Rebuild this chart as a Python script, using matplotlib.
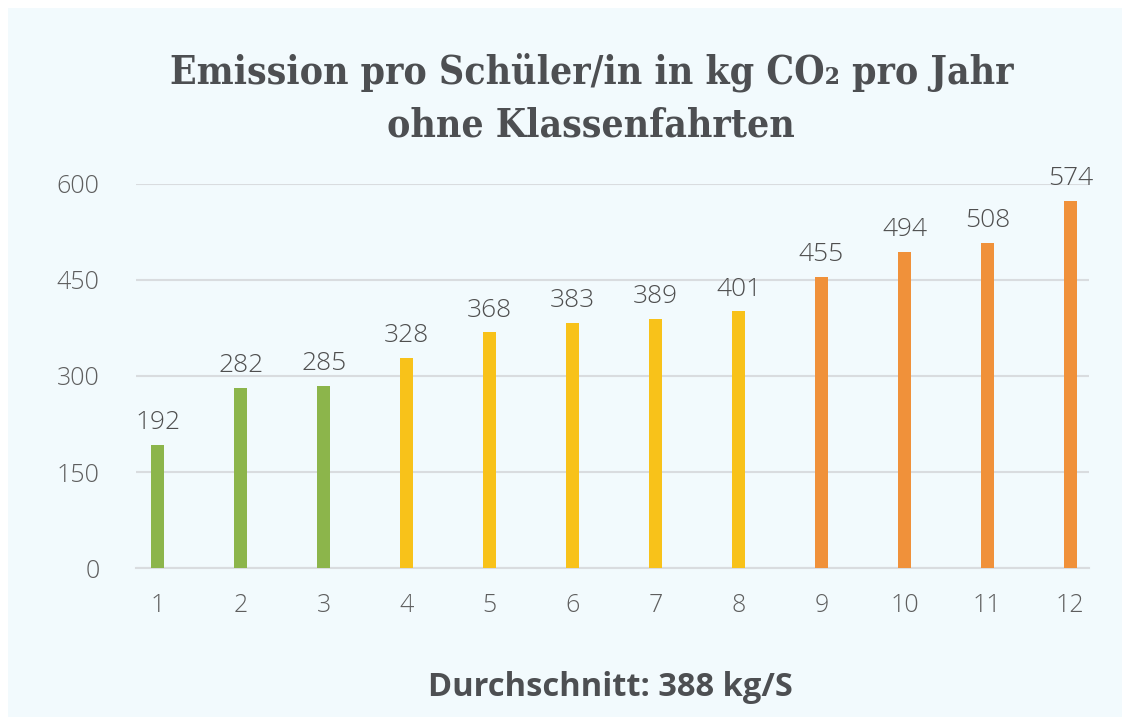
import matplotlib
matplotlib.use("Agg")
from matplotlib import pyplot
from matplotlib.patches import Rectangle

klassen = [1, 2, 3, 4, 5, 6, 7, 8, 9, 10, 11, 12]
emission = [192, 282, 285, 328, 368, 383, 389, 401, 455, 494, 508, 574]
gruppen = ['gruen'] * 3 + ['gelb'] * 5 + ['orange'] * 4
farben = {'gruen': '#8cb54b', 'gelb': '#f8c21a', 'orange': '#f0913a'}
yticks = [0, 150, 300, 450, 600]

bg = '#f2fafd'
text_col = '#5e5e5e'
title_col = '#4d4f52'

fig = pyplot.figure(figsize=(11.22, 7.17), dpi=100, facecolor='white')
fig.patches.append(Rectangle((8 / 1122, 0), 1, 1 - 8 / 717, transform=fig.transFigure,
                             facecolor=bg, edgecolor='none', zorder=-10))

ax = fig.add_axes([0.121, 0.2078, 0.850, 0.5356])
ax.set_facecolor('none')
ax.bar(klassen, emission, width=0.16, color=[farben[g] for g in gruppen], zorder=3)

for k, v in zip(klassen, emission):
  ax.annotate(str(v), (k, v), xytext=(0, 7), textcoords='offset points',
              ha='center', va='bottom', fontsize=19, color='#4f4f4f',
              family='Open Sans', fontweight='light', annotation_clip=False)

ax.set_ylim(0, 600)
ax.set_xlim(0.735, 12.23)
ax.set_yticks(yticks)
ax.set_xticks(klassen)
ax.yaxis.grid(True, color='#d9dcdf', linewidth=1.5, zorder=0)
ax.set_axisbelow(True)
for s in ['top', 'right', 'left']:
  ax.spines[s].set_visible(False)
ax.spines['bottom'].set_color('#d9dcdf')
ax.spines['bottom'].set_linewidth(1.5)
ax.tick_params(length=0, labelsize=18, labelcolor=text_col)
ax.tick_params(axis='y', pad=26)
ax.tick_params(axis='x', pad=18)
for lbl in ax.get_xticklabels() + ax.get_yticklabels():
  lbl.set_family('Open Sans')
  lbl.set_fontweight('light')

fig.text(0.527, 0.899, 'Emission pro Schüler/in in kg CO₂ pro Jahr', ha='center', va='center',
         fontsize=28, fontweight='bold', family='DejaVu Serif', fontstretch='condensed',
         color=title_col)
fig.text(0.527, 0.825, 'ohne Klassenfahrten', ha='center', va='center',
         fontsize=28, fontweight='bold', family='DejaVu Serif', fontstretch='condensed',
         color=title_col)
fig.text(0.544, 0.041, 'Durchschnitt: 388 kg/S', ha='center', va='center',
         fontsize=23.5, fontweight='bold', family='Open Sans', color=title_col)

fig.savefig('out.png', dpi=100, facecolor='white')
